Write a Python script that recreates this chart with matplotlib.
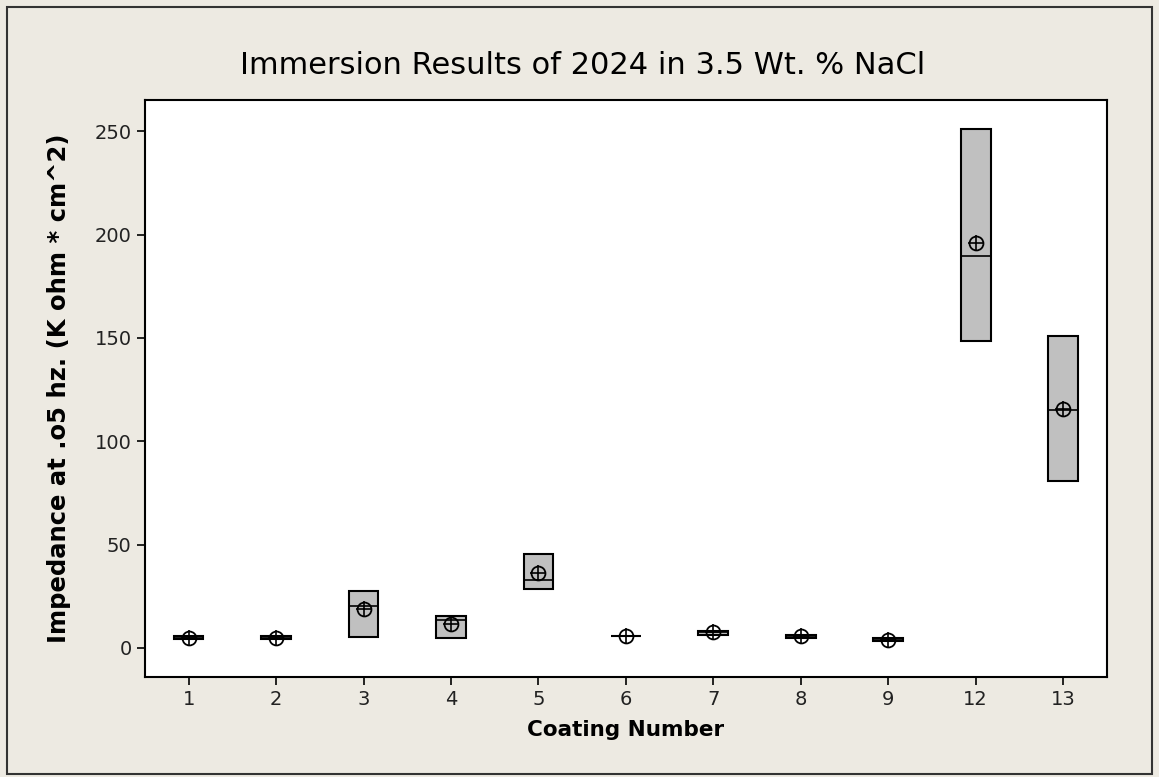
import matplotlib.pyplot as plt
from matplotlib.patches import Rectangle

# coating labels and box statistics (K ohm * cm^2)
coatings = ['1', '2', '3', '4', '5', '6', '7', '8', '9', '12', '13']
q1 = [4.3, 4.4, 5.2, 5.0, 28.4, 5.5, 6.2, 4.8, 3.3, 148.7, 80.6]
q3 = [5.6, 5.7, 27.3, 15.5, 45.5, 5.5, 8.3, 6.0, 4.6, 251.0, 150.7]
medians = [5.0, 5.0, 20.3, 13.6, 32.6, 5.5, 7.5, 5.5, 4.0, 189.6, 115.3]
means = [5.0, 5.0, 18.7, 11.5, 36.2, 5.5, 7.5, 5.5, 3.8, 196.0, 115.5]

bg = '#EDEAE2'
fig = plt.figure(figsize=(11.59, 7.77), dpi=100, facecolor=bg)
ax = fig.add_axes([0.125, 0.129, 0.830, 0.742])

stats = []
for i, lab in enumerate(coatings):
    stats.append({'label': lab, 'q1': q1[i], 'q3': q3[i], 'med': medians[i],
                  'whislo': q1[i], 'whishi': q3[i], 'fliers': []})

pos = list(range(1, len(coatings) + 1))
ax.bxp(stats, positions=pos, widths=0.34, patch_artist=True,
       showcaps=False, showfliers=False,
       boxprops=dict(facecolor='#C0C0C0', edgecolor='black', linewidth=1.5),
       medianprops=dict(color='black', linewidth=1.2),
       whiskerprops=dict(linewidth=0))

# mean symbol: circle with crosshair
ax.plot(pos, means, 'o', ms=10, mfc='none', mec='black', mew=1.3, zorder=5)
ax.plot(pos, means, '+', ms=11, color='black', mew=1.2, zorder=5)

ax.set_xlim(0.5, 11.5)
ax.set_ylim(-14, 265)
ax.set_yticks([0, 50, 100, 150, 200, 250])
ax.set_xticks(pos)
ax.set_xticklabels(coatings)
ax.tick_params(labelsize=14, length=6, width=1.2, direction='out', labelcolor='#222222')
for s in ax.spines.values():
    s.set_linewidth(1.5)

fig.text(0.503, 0.916, 'Immersion Results of 2024 in 3.5 Wt. % NaCl', fontsize=22,
         ha='center', va='center')
ax.set_xlabel('Coating Number', fontsize=15.5, fontweight='bold', labelpad=8)
ax.set_ylabel('Impedance at .o5 hz. (K ohm * cm^2)', fontsize=17.5, fontweight='bold', labelpad=17)

fig.patches.append(Rectangle((0.006, 0.004), 0.988, 0.987, transform=fig.transFigure,
                             fill=False, edgecolor='#333333', linewidth=1.5))

fig.savefig('out.png', dpi=100, facecolor=bg)
